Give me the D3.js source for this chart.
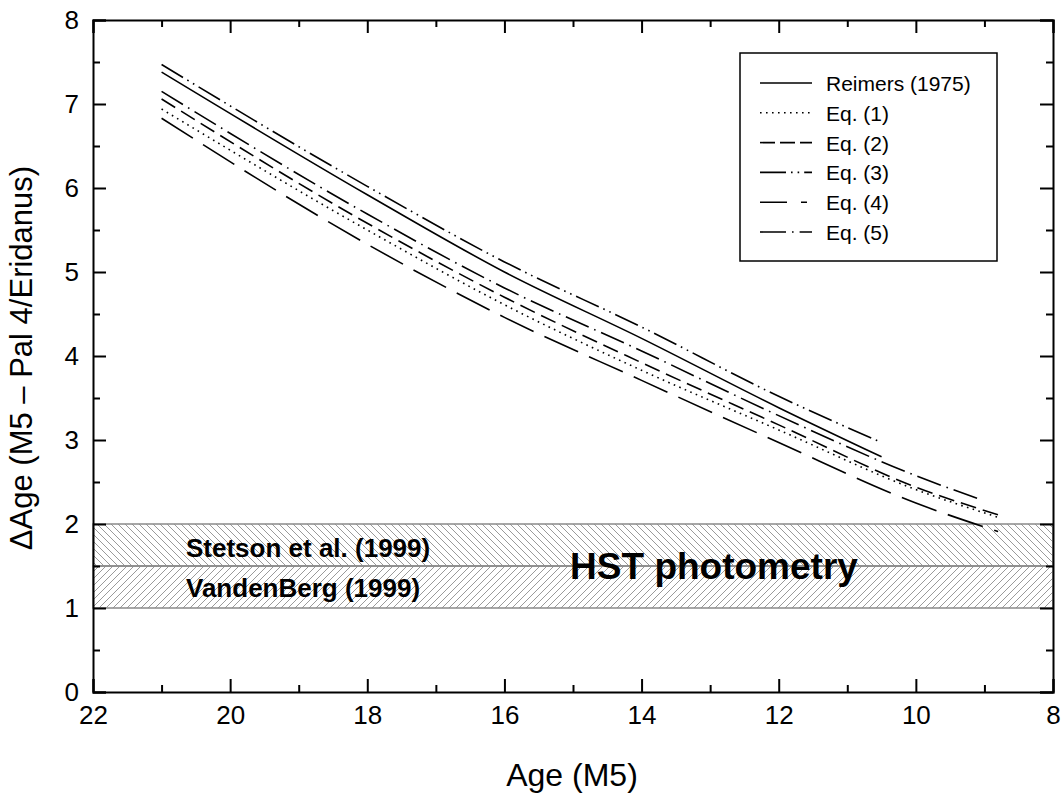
<!DOCTYPE html>
<html><head><meta charset="utf-8">
<script src="https://cdn.jsdelivr.net/npm/d3@7"></script>
<style>body{margin:0;background:#fff}svg{display:block;font-family:"Liberation Sans",Arial,Helvetica,sans-serif}</style>
</head><body><svg id="c" width="1063" height="795"></svg>
<script>
const xTicks = [22, 20, 18, 16, 14, 12, 10, 8];
const yTicks = [0, 1, 2, 3, 4, 5, 6, 7, 8];
const seriesNames = ["Reimers (1975)", "Eq. (1)", "Eq. (2)", "Eq. (3)", "Eq. (4)", "Eq. (5)"];
const agesReimers = [21, 18, 16, 14, 12, 10.5];
const valsReimers = [7.38, 5.92, 5.00, 4.21, 3.385, 2.80];
const agesEq1 = [21, 18, 16, 14, 12, 10, 8.8];
const valsEq1 = [6.94, 5.50, 4.61, 3.83, 3.12, 2.41, 2.08];
const agesEq2 = [21, 18, 16, 14, 12, 10, 8.8];
const valsEq2 = [7.06, 5.58, 4.70, 3.92, 3.18, 2.44, 2.11];
const agesEq3 = [21, 18, 16, 14, 12, 10.5];
const valsEq3 = [7.47, 6.02, 5.12, 4.345, 3.52, 2.97];
const agesEq4 = [21, 18, 16, 14, 12, 10, 8.8];
const valsEq4 = [6.83, 5.33, 4.46, 3.71, 2.97, 2.25, 1.91];
const agesEq5 = [21, 18, 16, 14, 12, 10, 9.05];
const valsEq5 = [7.15, 5.69, 4.81, 4.06, 3.29, 2.575, 2.29];
const bandNames = ["VandenBerg (1999)", "Stetson et al. (1999)"];
const bandLow = [1.0, 1.5];
const bandHigh = [1.5, 2.0];
const bandTitle = "HST photometry";

const series = [
  {name: seriesNames[0], ages: agesReimers, vals: valsReimers, dash: null},
  {name: seriesNames[1], ages: agesEq1, vals: valsEq1, dash: "1.6,4.4"},
  {name: seriesNames[2], ages: agesEq2, vals: valsEq2, dash: "16,7"},
  {name: seriesNames[3], ages: agesEq3, vals: valsEq3, dash: "25,5,1.6,5,1.6,5"},
  {name: seriesNames[4], ages: agesEq4, vals: valsEq4, dash: "37,12"},
  {name: seriesNames[5], ages: agesEq5, vals: valsEq5, dash: "25,6,1.6,6"}
];
const legendDash = [null, "1.6,4.4", "15,5", "26,5,1.6,5,1.6,5", "27,14,6,14", "26,6,1.6,6"];

const svg = d3.select("#c");
const L = 93, R = 1053, T = 20, B = 692;
const x = d3.scaleLinear().domain([22, 8]).range([L, R]);
const y = d3.scaleLinear().domain([0, 8]).range([B, T]);

// hatch patterns
const defs = svg.append("defs");
function hatch(id, dir) {
  const p = defs.append("pattern").attr("id", id).attr("patternUnits", "userSpaceOnUse")
    .attr("width", 7).attr("height", 7);
  if (dir > 0) p.append("path").attr("d", "M-1,8 L8,-1 M-2,2 L2,-2 M5,9 L9,5");
  else p.append("path").attr("d", "M-1,-1 L8,8 M-2,5 L2,9 M5,-2 L9,2");
  p.select("path").attr("stroke", "#8f8f8f").attr("stroke-width", 0.9);
}
hatch("h0", 1); hatch("h1", -1);

bandLow.forEach((lo, i) => {
  svg.append("rect").attr("x", x(22)).attr("width", x(8) - x(22))
    .attr("y", y(bandHigh[i])).attr("height", y(lo) - y(bandHigh[i]))
    .attr("fill", `url(#h${i})`).attr("stroke", "#8a8a8a").attr("stroke-width", 1.5);
});
svg.append("text").attr("x", 186).attr("y", y(1.5) + 31).attr("font-weight", "bold")
  .attr("font-size", 26).text(bandNames[0]);
svg.append("text").attr("x", 186).attr("y", y(2.0) + 33).attr("font-weight", "bold")
  .attr("font-size", 26).text(bandNames[1]);
svg.append("text").attr("x", 714).attr("y", y(1.5) + 13).attr("text-anchor", "middle")
  .attr("font-weight", "bold").attr("font-size", 37).text(bandTitle);

// series
const line = d3.line().x(d => x(d[0])).y(d => y(d[1])).curve(d3.curveMonotoneX);
series.forEach(s => {
  const pts = s.ages.map((a, i) => [a, s.vals[i]]);
  svg.append("path").attr("d", line(pts)).attr("fill", "none").attr("stroke", "#000")
    .attr("stroke-width", 1.6).attr("stroke-dasharray", s.dash);
});

// axes
const minorX = d3.range(21, 8, -2);
const minorY = d3.range(0.5, 8, 1);
function axis(gen, scale, major, minor, tr, lab) {
  const g = svg.append("g").attr("transform", tr);
  g.call(gen(scale).tickValues(major).tickSize(-13).tickPadding(lab ? 14 : 0).tickFormat(lab ? d3.format("d") : ""));
  g.call(a => a.selectAll(".domain").attr("stroke-width", 2));
  g.selectAll(".tick line").attr("stroke-width", 2);
  const g2 = svg.append("g").attr("transform", tr);
  g2.call(gen(scale).tickValues(minor).tickSize(-7).tickFormat(""));
  g2.select(".domain").remove();
  g2.selectAll(".tick line").attr("stroke-width", 2);
  g.selectAll("text").attr("font-size", 26).attr("font-family", "Liberation Sans, Arial, sans-serif");
  return g;
}
axis(d3.axisBottom, x, xTicks, minorX, `translate(0,${B})`, true);
axis(d3.axisTop, x, xTicks, minorX, `translate(0,${T})`, false);
axis(d3.axisLeft, y, yTicks, minorY, `translate(${L},0)`, true);
axis(d3.axisRight, y, yTicks, minorY, `translate(${R},0)`, false);

// axis titles
svg.append("text").attr("x", 572).attr("y", 786).attr("text-anchor", "middle")
  .attr("font-size", 32).text("Age (M5)");
svg.append("text").attr("transform", `translate(32,${(T + B) / 2 + 2}) rotate(-90)`)
  .attr("text-anchor", "middle").attr("font-size", 31).text("ΔAge (M5 – Pal 4/Eridanus)");

// legend
const lg = svg.append("g");
lg.append("rect").attr("x", 740).attr("y", 53).attr("width", 257).attr("height", 208)
  .attr("fill", "#fff").attr("stroke", "#000").attr("stroke-width", 1.5);
seriesNames.forEach((n, i) => {
  const yy = 83 + i * 29.8;
  lg.append("line").attr("x1", 760).attr("x2", 812).attr("y1", yy).attr("y2", yy)
    .attr("stroke", "#000").attr("stroke-width", 1.6).attr("stroke-dasharray", legendDash[i]);
  lg.append("text").attr("x", 826).attr("y", yy + 8).attr("font-size", 21).text(n);
});
</script></body></html>
